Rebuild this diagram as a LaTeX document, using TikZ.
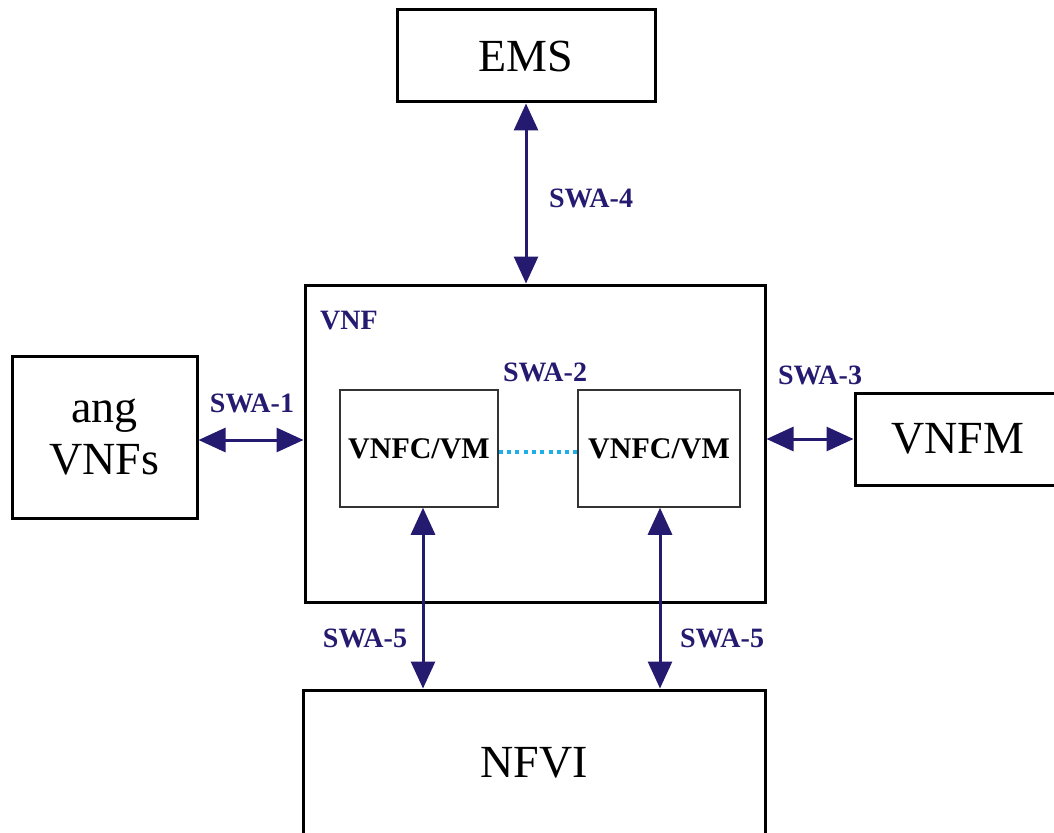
\documentclass[tikz,border=0pt]{standalone}
\usepackage{fontspec}
\setmainfont{Liberation Serif}
\usetikzlibrary{arrows.meta,calc}
\definecolor{navy}{RGB}{36,26,112}
\definecolor{dotcyan}{RGB}{30,175,230}
\tikzset{
  bigbox/.style={draw=black,line width=3pt,inner sep=0pt,font=\fontsize{46}{52}\selectfont,align=center},
  smallbox/.style={draw=black!80,line width=1.5pt,inner sep=0pt,font=\bfseries\fontsize{30}{33}\selectfont},
  lbl/.style={text=navy,font=\bfseries\fontsize{28}{30}\selectfont,inner sep=0pt},
  biarrow/.style={draw=navy,line width=3pt,{Triangle[length=27pt,width=24pt]}-{Triangle[length=27pt,width=24pt]}},
  dotline/.style={draw=dotcyan,line width=4.5pt,dash pattern=on 4pt off 4.3pt}
}
\begin{document}
\begin{tikzpicture}[x=1pt,y=-1pt]
\useasboundingbox[fill=white] (0,0) rectangle (1054,832);
\begin{scope}
\clip (0,0) rectangle (1054,832);
\node[bigbox,minimum width=258pt,minimum height=92pt] (EMS) at (526,56) {EMS};
\node[bigbox,minimum width=185pt,minimum height=162pt] (ang) at (104.5,437) {ang\\VNFs};
\node[bigbox,minimum width=460pt,minimum height=317pt] (VNF) at (535,443.5) {};
\node[smallbox,minimum width=158pt,minimum height=117pt] (C1) at (419,448.5) {VNFC/VM};
\node[smallbox,minimum width=162pt,minimum height=117pt] (C2) at (659,448.5) {VNFC/VM};
\node[bigbox,minimum width=206pt,minimum height=92pt] (VNFM) at (958,439) {VNFM};
\node[bigbox,minimum width=462pt,minimum height=146pt] (NFVI) at (534,763) {NFVI};
\end{scope}
\node[lbl] (vnflbl) at (349,321) {VNF};
\node[lbl] (l4) at (591,198) {SWA-4};
\node[lbl] (l1) at (252,403) {SWA-1};
\node[lbl] (l2) at (545,372) {SWA-2};
\node[lbl] (l3) at (820,375) {SWA-3};
\node[lbl] (l5a) at (365,638) {SWA-5};
\node[lbl] (l5b) at (722,638) {SWA-5};
\draw[biarrow] (EMS.south) -- (EMS.south |- VNF.north);
\draw[biarrow] ([yshift=-3pt]ang.east) -- ([yshift=-3pt]ang.east -| VNF.west);
\draw[biarrow] (VNF.east |- VNFM.west) -- (VNFM.west);
\draw[biarrow] ([xshift=4pt]C1.south) -- ([xshift=4pt]C1.south |- NFVI.north);
\draw[biarrow] ([xshift=1pt]C2.south) -- ([xshift=1pt]C2.south |- NFVI.north);
\draw[dotline] ([yshift=-3.5pt]C1.east) -- ([yshift=-3.5pt]C2.west);
\end{tikzpicture}
\end{document}
